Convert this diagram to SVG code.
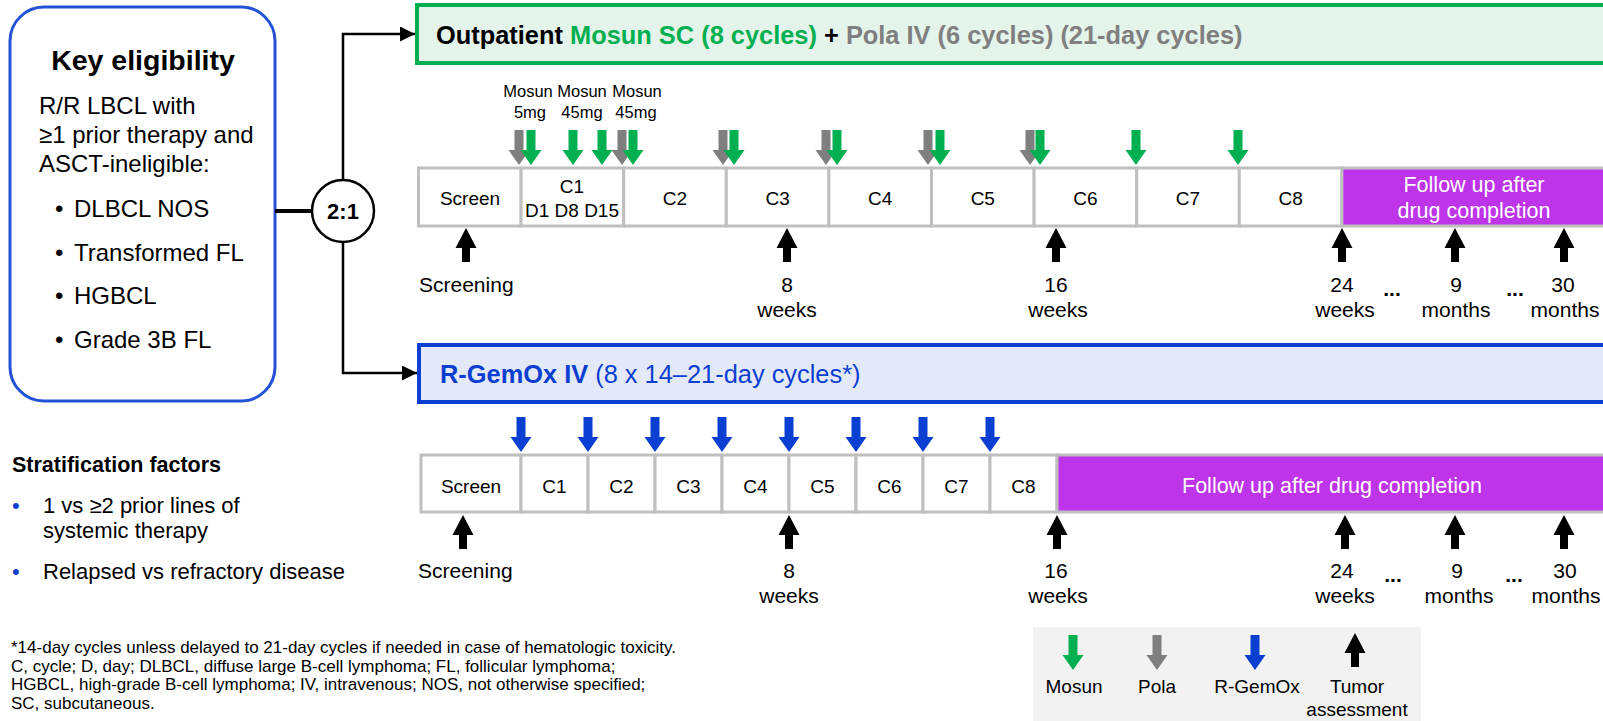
<svg xmlns="http://www.w3.org/2000/svg" width="1603" height="721" viewBox="0 0 1603 721">
<style>
text{font-family:"Liberation Sans",Arial,sans-serif;fill:#000}
.b{font-weight:bold}
.cell{fill:#fff;stroke:#bfbfbf;stroke-width:3}
.fu{fill:#bd34e9;stroke:#bfbfbf;stroke-width:3}
.cl{font-size:19px;text-anchor:middle}
.tl{font-size:21px}
.mid{text-anchor:middle}
.wt{fill:#fff;font-size:21.5px;text-anchor:middle}
.g{fill:#00b050}
.gy{fill:#7f7f7f}
.bl{fill:#0b3fd1}
.k{fill:#000}
.conn{fill:none;stroke:#000;stroke-width:2.5}
</style>
<defs>
<path id="dn" d="M-4.5,-35 H4.5 V-15 H10.5 L0,0 L-10.5,-15 H-4.5 Z"/>
<path id="up" d="M-4,34 H4 V20 H10.5 L0,0 L-10.5,20 H-4 Z"/>
<marker id="ah" viewBox="0 0 10 10" refX="10" refY="5" markerWidth="6" markerHeight="6" markerUnits="strokeWidth" orient="auto"><path d="M0,0 L10,5 L0,10 Z" fill="#000"/></marker>
</defs>

<g id="eligibility">
<rect x="10" y="7" width="265" height="394" rx="34" fill="#fff" stroke="#2452d6" stroke-width="3"/>
<text x="143" y="70" class="b mid" font-size="28.5">Key eligibility</text>
<text x="39" y="114" font-size="24">R/R LBCL with</text>
<text x="39" y="143" font-size="24">≥1 prior therapy and</text>
<text x="39" y="172" font-size="24">ASCT-ineligible:</text>
<text x="55" y="217" font-size="24">•</text><text x="74" y="217" font-size="24">DLBCL NOS</text>
<text x="55" y="261" font-size="24">•</text><text x="74" y="261" font-size="24">Transformed FL</text>
<text x="55" y="304" font-size="24">•</text><text x="74" y="304" font-size="24">HGBCL</text>
<text x="55" y="348" font-size="24">•</text><text x="74" y="348" font-size="24">Grade 3B FL</text>
</g>

<g id="connectors">
<line x1="275" y1="211" x2="312" y2="211" stroke="#000" stroke-width="4"/>
<path class="conn" d="M343,180 V34 H415" marker-end="url(#ah)"/>
<path class="conn" d="M343,242 V373 H417" marker-end="url(#ah)"/>
</g>

<g id="randomization">
<circle cx="343" cy="211" r="31" fill="#fff" stroke="#000" stroke-width="2.5"/>
<text x="343" y="219" class="b mid" font-size="22">2:1</text>
</g>

<g id="arm-a-header">
<rect x="417" y="5" width="1200" height="58" fill="#e5f4ea" stroke="#00b050" stroke-width="4"/>
<text x="436" y="44" class="b" font-size="25.4">Outpatient <tspan class="g">Mosun SC (8 cycles)</tspan> + <tspan class="gy">Pola IV (6 cycles) (21-day cycles)</tspan></text>
</g>

<g id="arm-a-timeline">
<text x="528" y="97" class="mid" font-size="16.5">Mosun</text>
<text x="582" y="97" class="mid" font-size="16.5">Mosun</text>
<text x="637" y="97" class="mid" font-size="16.5">Mosun</text>
<text x="530" y="118" class="mid" font-size="16.5">5mg</text>
<text x="582" y="118" class="mid" font-size="16.5">45mg</text>
<text x="636" y="118" class="mid" font-size="16.5">45mg</text>
<g class="gy">
<use href="#dn" x="519" y="165"/><use href="#dn" x="622" y="165"/><use href="#dn" x="723" y="165"/>
<use href="#dn" x="826" y="165"/><use href="#dn" x="928" y="165"/><use href="#dn" x="1030" y="165"/>
</g>
<g class="g">
<use href="#dn" x="531" y="165"/><use href="#dn" x="573" y="165"/><use href="#dn" x="602" y="165"/>
<use href="#dn" x="633" y="165"/><use href="#dn" x="734" y="165"/><use href="#dn" x="837" y="165"/>
<use href="#dn" x="940" y="165"/><use href="#dn" x="1040" y="165"/><use href="#dn" x="1136" y="165"/>
<use href="#dn" x="1238" y="165"/>
</g>
<rect class="cell" x="418.5" y="168" width="102.6" height="58"/>
<rect class="cell" x="521.1" y="168" width="102.6" height="58"/>
<rect class="cell" x="623.7" y="168" width="102.6" height="58"/>
<rect class="cell" x="726.3" y="168" width="102.6" height="58"/>
<rect class="cell" x="828.9" y="168" width="102.6" height="58"/>
<rect class="cell" x="931.5" y="168" width="102.6" height="58"/>
<rect class="cell" x="1034.1" y="168" width="102.6" height="58"/>
<rect class="cell" x="1136.7" y="168" width="102.6" height="58"/>
<rect class="cell" x="1239.3" y="168" width="102.6" height="58"/>
<rect class="fu" x="1341.9" y="168" width="280" height="58"/>
<text x="470" y="205" class="cl">Screen</text>
<text x="572" y="193" class="cl">C1</text>
<text x="572" y="217" class="cl">D1 D8 D15</text>
<text x="675" y="205" class="cl">C2</text>
<text x="777.6" y="205" class="cl">C3</text>
<text x="880.2" y="205" class="cl">C4</text>
<text x="982.8" y="205" class="cl">C5</text>
<text x="1085.4" y="205" class="cl">C6</text>
<text x="1188" y="205" class="cl">C7</text>
<text x="1290.6" y="205" class="cl">C8</text>
<text x="1474" y="192" class="wt">Follow up after</text>
<text x="1474" y="218" class="wt">drug completion</text>
<g class="k">
<use href="#up" x="466" y="228"/><use href="#up" x="787" y="228"/><use href="#up" x="1056" y="228"/>
<use href="#up" x="1342" y="228"/><use href="#up" x="1455" y="228"/><use href="#up" x="1564" y="228"/>
</g>
<text x="419" y="292" class="tl">Screening</text>
<text x="787" y="292" class="tl mid">8</text><text x="787" y="317" class="tl mid">weeks</text>
<text x="1056" y="292" class="tl mid">16</text><text x="1058" y="317" class="tl mid">weeks</text>
<text x="1342" y="292" class="tl mid">24</text><text x="1345" y="317" class="tl mid">weeks</text>
<text x="1392" y="296" class="tl mid b">...</text>
<text x="1456" y="292" class="tl mid">9</text><text x="1456" y="317" class="tl mid">months</text>
<text x="1515" y="296" class="tl mid b">...</text>
<text x="1563" y="292" class="tl mid">30</text><text x="1565" y="317" class="tl mid">months</text>
</g>

<g id="arm-b-header">
<rect x="419" y="345" width="1200" height="57" fill="#e3e9f8" stroke="#0b3fd1" stroke-width="4"/>
<text x="440" y="383" font-size="25.4" class="bl"><tspan class="b">R-GemOx IV</tspan> (8 x 14–21-day cycles*)</text>
</g>

<g id="arm-b-timeline">
<g class="bl">
<use href="#dn" x="521" y="452"/><use href="#dn" x="588" y="452"/><use href="#dn" x="655" y="452"/>
<use href="#dn" x="722" y="452"/><use href="#dn" x="789" y="452"/><use href="#dn" x="856" y="452"/>
<use href="#dn" x="923" y="452"/><use href="#dn" x="990" y="452"/>
</g>
<rect class="cell" x="421" y="455" width="100" height="57"/>
<rect class="cell" x="521" y="455" width="67" height="57"/>
<rect class="cell" x="588" y="455" width="67" height="57"/>
<rect class="cell" x="655" y="455" width="67" height="57"/>
<rect class="cell" x="722" y="455" width="67" height="57"/>
<rect class="cell" x="789" y="455" width="67" height="57"/>
<rect class="cell" x="856" y="455" width="67" height="57"/>
<rect class="cell" x="923" y="455" width="67" height="57"/>
<rect class="cell" x="990" y="455" width="67" height="57"/>
<rect class="fu" x="1057" y="455" width="570" height="57"/>
<text x="471" y="493" class="cl">Screen</text>
<text x="554.5" y="493" class="cl">C1</text>
<text x="621.5" y="493" class="cl">C2</text>
<text x="688.5" y="493" class="cl">C3</text>
<text x="755.5" y="493" class="cl">C4</text>
<text x="822.5" y="493" class="cl">C5</text>
<text x="889.5" y="493" class="cl">C6</text>
<text x="956.5" y="493" class="cl">C7</text>
<text x="1023.5" y="493" class="cl">C8</text>
<text x="1332" y="493" class="wt">Follow up after drug completion</text>
<g class="k">
<use href="#up" x="463" y="515"/><use href="#up" x="789" y="515"/><use href="#up" x="1057" y="515"/>
<use href="#up" x="1345" y="515"/><use href="#up" x="1455" y="515"/><use href="#up" x="1564" y="515"/>
</g>
<text x="418" y="578" class="tl">Screening</text>
<text x="789" y="578" class="tl mid">8</text><text x="789" y="603" class="tl mid">weeks</text>
<text x="1056" y="578" class="tl mid">16</text><text x="1058" y="603" class="tl mid">weeks</text>
<text x="1342" y="578" class="tl mid">24</text><text x="1345" y="603" class="tl mid">weeks</text>
<text x="1393" y="582" class="tl mid b">...</text>
<text x="1457" y="578" class="tl mid">9</text><text x="1459" y="603" class="tl mid">months</text>
<text x="1514" y="582" class="tl mid b">...</text>
<text x="1565" y="578" class="tl mid">30</text><text x="1566" y="603" class="tl mid">months</text>
</g>

<g id="stratification">
<text x="12" y="472" class="b" font-size="21.5">Stratification factors</text>
<text x="12" y="513" font-size="22" class="bl">•</text>
<text x="43" y="513" font-size="22">1 vs ≥2 prior lines of</text>
<text x="43" y="538" font-size="22">systemic therapy</text>
<text x="12" y="579" font-size="22" class="bl">•</text>
<text x="43" y="579" font-size="22">Relapsed vs refractory disease</text>
</g>

<g id="footnote" font-size="17">
<text x="11" y="653" font-size="17">*14-day cycles unless delayed to 21-day cycles if needed in case of hematologic toxicity.</text>
<text x="11" y="671.5" font-size="17">C, cycle; D, day; DLBCL, diffuse large B-cell lymphoma; FL, follicular lymphoma;</text>
<text x="11" y="690" font-size="17">HGBCL, high-grade B-cell lymphoma; IV, intravenous; NOS, not otherwise specified;</text>
<text x="11" y="708.5" font-size="17">SC, subcutaneous.</text>
</g>

<g id="legend">
<rect x="1033" y="627" width="388" height="100" fill="#f2f2f2"/>
<use href="#dn" x="1073" y="670" class="g"/>
<use href="#dn" x="1157" y="670" class="gy"/>
<use href="#dn" x="1255" y="670" class="bl"/>
<use href="#up" x="1355" y="633" class="k"/>
<text x="1074" y="693" font-size="19" class="mid">Mosun</text>
<text x="1157" y="693" font-size="19" class="mid">Pola</text>
<text x="1257" y="693" font-size="19" class="mid">R-GemOx</text>
<text x="1357" y="693" font-size="19" class="mid">Tumor</text>
<text x="1357" y="716" font-size="19" class="mid">assessment</text>
</g>
</svg>
